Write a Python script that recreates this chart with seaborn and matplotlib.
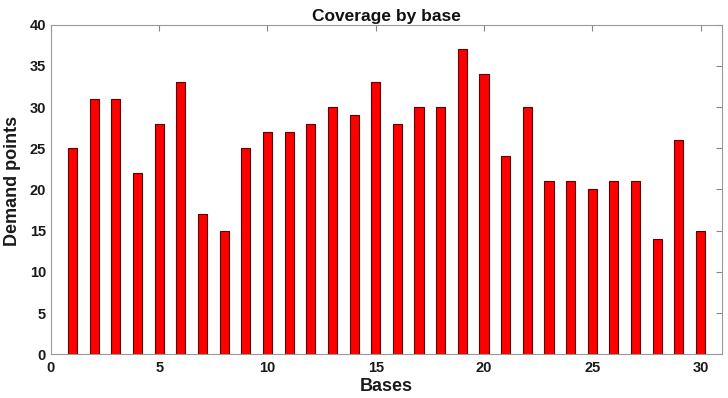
#!/usr/bin/env python3

import seaborn as sns
from matplotlib import pyplot as plt

bases = list(range(1, 31))
demand_points = [25, 31, 31, 22, 28, 33, 17, 15, 25, 27,
                 27, 28, 30, 29, 33, 28, 30, 30, 37, 34,
                 24, 30, 21, 21, 20, 21, 21, 14, 26, 15]


def main():
    sns.set_style("white")
    plt.rcParams["font.family"] = ["Liberation Sans", "DejaVu Sans"]
    plt.rcParams["font.weight"] = "bold"

    fig = plt.figure(figsize=(7.28, 3.98), dpi=100)
    ax = fig.add_axes([0.070, 0.110, 0.922, 0.828])

    sns.barplot(x=bases, y=demand_points, native_scale=True, width=0.42,
                color="#ff0000", saturation=1, edgecolor="#5a0000",
                linewidth=0.8, ax=ax)

    ax.set_xlim(0, 31)
    ax.set_ylim(0, 40)
    ax.set_xticks(range(0, 31, 5))
    ax.set_yticks(range(0, 41, 5))
    ax.tick_params(axis="x", pad=5)
    ax.tick_params(direction="in", top=True, right=True, length=4,
                   color="#888888", labelsize=10.5)
    for lab in ax.get_xticklabels() + ax.get_yticklabels():
        lab.set_fontweight("bold")
        lab.set_color("#1a1a1a")
    for s in ax.spines.values():
        s.set_color("#999999")
        s.set_linewidth(0.8)

    ax.set_xlabel("Bases", fontsize=13, fontweight="bold", labelpad=2,
                  color="#1a1a1a")
    ax.set_ylabel("Demand points", fontsize=13, fontweight="bold",
                  color="#1a1a1a")
    ax.yaxis.set_label_coords(-0.045, 0.526)
    ax.set_title("Coverage by base", fontsize=12.5, fontweight="bold", pad=3,
                 color="#111111")

    fig.savefig("out.png", dpi=100)
    plt.close(fig)


if __name__ == '__main__':
    main()
